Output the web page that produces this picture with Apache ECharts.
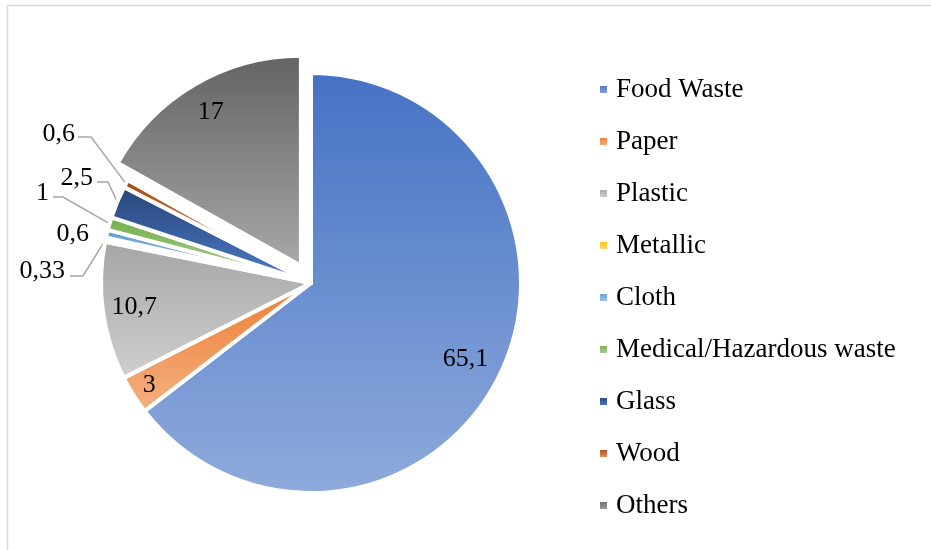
<!DOCTYPE html>
<html>
<head>
<meta charset="utf-8">
<script src="https://cdn.jsdelivr.net/npm/echarts@6/dist/echarts.min.js"></script>
<style>
html,body{margin:0;padding:0;background:#fff;}
#chart{width:931px;height:550px;}
</style>
</head>
<body>
<div id="chart"></div>
<script>
// ---- data ----
var categories = ['Food Waste','Paper','Plastic','Metallic','Cloth','Medical/Hazardous waste','Glass','Wood','Others'];
var values = [65.1, 3, 10.7, 0.33, 0.6, 1, 2.5, 0.6, 17];
var labelTexts = ['65,1','3','10,7','0,33','0,6','1','2,5','0,6','17'];

// ---- styling / layout ----
var topColors    = ['#4472C4','#ED7D31','#A5A5A5','#FFC000','#5B9BD5','#70AD47','#264478','#9E480E','#636363'];
var bottomColors = ['#8FAADC','#F4B183','#D0D0D0','#FFE08A','#A9C8EA','#B4D69C','#4F7CC9','#F0A070','#A8A8A8'];
var CENTER = [311, 283];
var RADIUS = 210;
var EXPLODE = 20;
var explodedIndex = 8;
var insideRatio = {0:0.82, 1:0.91, 2:0.85, 8:0.85};
// outside labels: text anchor (right-aligned) and leader bend points
var outsideLabels = {
  7: {x:75, y:134, line:[[91,137],[78,137]]},
  6: {x:93, y:178, line:[[108,182],[97,182]]},
  5: {x:49, y:193, line:[[63,197],[53,197]]},
  4: {x:89, y:234, line:null},
  3: {x:65, y:271, line:[[83,276],[70,276]]}
};
var LABEL_FONT = {fontFamily:'Liberation Serif', fontSize:26, color:'#000'};

var total = values.reduce(function(a,b){return a+b;},0);
function midAngle(i){
  var s = 0;
  for (var k=0;k<i;k++) s += values[k];
  return (s + values[i]/2) / total * 2 * Math.PI;
}
function isOutside(i){ return outsideLabels.hasOwnProperty(i); }

var chart = echarts.init(document.getElementById('chart'), null, {renderer:'canvas'});

// main pie: slices + outside labels
var mainData = categories.map(function(name, i){
  var out = isOutside(i);
  return {
    name: name,
    value: values[i],
    selected: i === explodedIndex,
    itemStyle: {
      color: new echarts.graphic.LinearGradient(0,0,0,1,[
        {offset:0,color:topColors[i]},{offset:1,color:bottomColors[i]}
      ])
    },
    label: { show: out, position: 'outside' },
    labelLine: { show: out && !!outsideLabels[i].line }
  };
});

// overlay pie (transparent): inside labels only
var overlayData = categories.map(function(name, i){
  return {
    name: name,
    value: values[i],
    itemStyle: { color: 'rgba(0,0,0,0)' },
    label: { show: !isOutside(i), position: 'inside' },
    labelLine: { show: false }
  };
});

var option = {
  backgroundColor: '#ffffff',
  animation: false,
  graphic: [{
    type: 'rect',
    shape: {x:7.5, y:5.5, width:1000, height:1000},
    style: {fill:'none', stroke:'#D9D9D9', lineWidth:1.5},
    silent: true
  }],
  legend: {
    orient: 'vertical',
    left: 598,
    top: 76,
    padding: 0,
    itemWidth: 9,
    itemHeight: 9,
    itemGap: 25,
    icon: 'rect',
    selectedMode: false,
    textStyle: {
      fontFamily: 'Liberation Serif',
      fontSize: 27,
      lineHeight: 27,
      color: '#000',
      padding: [0,0,0,3]
    },
    data: categories
  },
  series: [{
    type: 'pie',
    center: CENTER,
    radius: [0, RADIUS],
    startAngle: 90,
    clockwise: true,
    selectedMode: 'single',
    selectedOffset: EXPLODE,
    avoidLabelOverlap: false,
    silent: true,
    itemStyle: { borderColor: '#ffffff', borderWidth: 4 },
    emphasis: { disabled: true },
    label: {
      fontFamily: LABEL_FONT.fontFamily,
      fontSize: LABEL_FONT.fontSize,
      color: LABEL_FONT.color,
      formatter: function(p){ return labelTexts[p.dataIndex]; }
    },
    labelLine: {
      lineStyle: { color: '#A6A6A6', width: 1.5 },
      length: 10, length2: 10, smooth: false
    },
    labelLayout: function(params){
      var i = params.dataIndex;
      if (!isOutside(i)) return {};
      var o = outsideLabels[i];
      var res = { x: o.x, y: o.y, align: 'right', verticalAlign: 'middle' };
      if (o.line && params.labelLinePoints) {
        res.labelLinePoints = [params.labelLinePoints[0], o.line[0], o.line[1]];
      }
      return res;
    },
    data: mainData
  }, {
    type: 'pie',
    center: CENTER,
    radius: [0, RADIUS],
    startAngle: 90,
    clockwise: true,
    selectedMode: false,
    avoidLabelOverlap: false,
    silent: true,
    z: 3,
    itemStyle: { borderWidth: 0 },
    emphasis: { disabled: true },
    label: {
      fontFamily: LABEL_FONT.fontFamily,
      fontSize: LABEL_FONT.fontSize,
      color: LABEL_FONT.color,
      formatter: function(p){ return labelTexts[p.dataIndex]; }
    },
    labelLayout: function(params){
      var i = params.dataIndex;
      var a = midAngle(i);
      var r = RADIUS * (insideRatio[i] || 0.85) + (i === explodedIndex ? EXPLODE : 0);
      return {
        x: CENTER[0] + Math.sin(a) * r,
        y: CENTER[1] - Math.cos(a) * r,
        align: 'center',
        verticalAlign: 'middle'
      };
    },
    data: overlayData
  }]
};
chart.setOption(option);
</script>
</body>
</html>
